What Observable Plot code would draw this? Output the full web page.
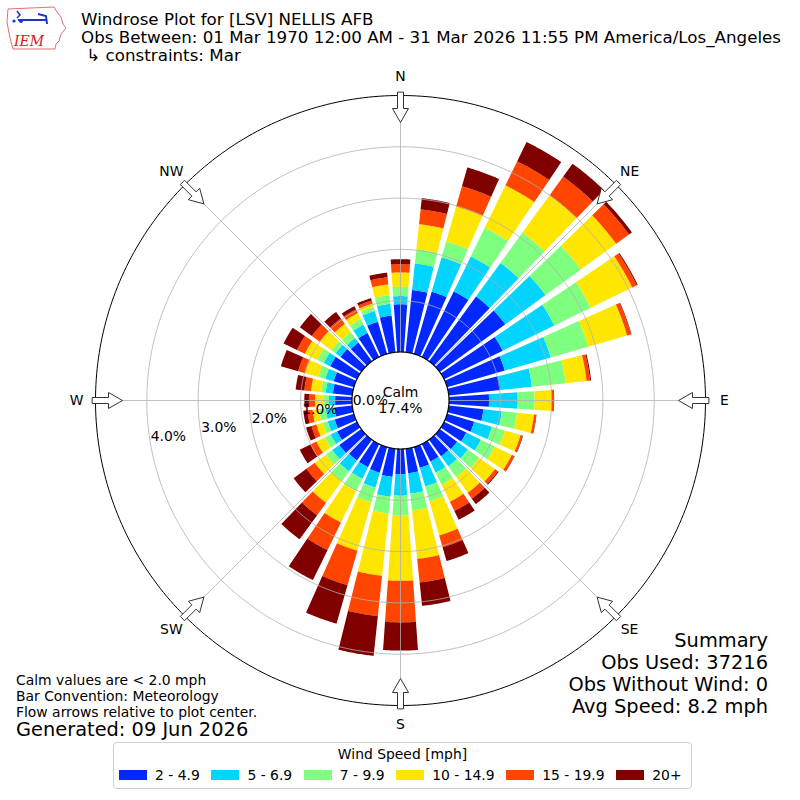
<!DOCTYPE html>
<html>
<head>
<meta charset="utf-8">
<script src="https://cdn.jsdelivr.net/npm/d3@7"></script>
<script src="https://cdn.jsdelivr.net/npm/@observablehq/plot@0.6"></script>
<style>
  html, body { margin: 0; padding: 0; background: #fff; }
  body { font-family: "DejaVu Sans", sans-serif; color: #000; }
  #page { position: relative; width: 800px; height: 800px; overflow: hidden; background: #fff; }
  #chart { position: absolute; left: 0; top: 0; width: 800px; height: 800px; }
  #logo { position: absolute; left: 0; top: 0; }
  #title { position: absolute; left: 81px; top: 10px; font-size: 16.7px; line-height: 18px; white-space: pre; }
  #summary { position: absolute; right: 32px; top: 630px; font-size: 19.4px; line-height: 22px; text-align: right; white-space: pre; }
  #notes { position: absolute; left: 16px; top: 672px; font-size: 13.9px; line-height: 16px; white-space: pre; }
  #generated { position: absolute; left: 16px; top: 719px; font-size: 19.4px; line-height: 22px; white-space: pre; }
  #legend { position: absolute; left: 113px; top: 742px; width: 577px; height: 45px; border: 1px solid #d0d0d0; border-radius: 4px; background: #fff; }
  #legend .ltitle { position: absolute; left: 0; right: 0; top: 2px; text-align: center; font-size: 13.9px; line-height: 18px; white-space: nowrap; }
  #legend .row { position: absolute; left: 5px; top: 23px; display: flex; flex-wrap: nowrap; align-items: center; font-size: 13.9px; line-height: 18px; white-space: nowrap; }
  #legend .item { display: flex; flex: none; align-items: center; margin-right: 11.6px; white-space: nowrap; }
  #legend .sw { flex: none; width: 28px; height: 10px; margin-right: 8px; }
</style>
</head>
<body>
<div id="page">
  <div id="chart"></div>
  <svg id="logo" width="72" height="56" viewBox="0 0 72 56">
    <path d="M8,9 L54,7 L57,12 L61,17 L63,24 L66,28 L61,34 L59,41 L56,44 L55,49 L13,49 L11,42 L9,33 L7,22 Z" fill="none" stroke="#e07070" stroke-width="1"/>
    <path d="M17,11 L20,15 L17,18" fill="none" stroke="#2233cc" stroke-width="1.5"/>
    <line x1="18" y1="20" x2="47" y2="20" stroke="#2233cc" stroke-width="2"/>
    <path d="M38,14 L46,16 L47,24" fill="none" stroke="#2233cc" stroke-width="2"/>
    <circle cx="14" cy="21" r="1.6" fill="#2233cc"/>
    <circle cx="21" cy="21" r="2" fill="#2233cc"/>
    <text x="14" y="46" font-family="DejaVu Serif" font-style="italic" font-size="14" fill="#cc2222">IEM</text>
  </svg>
  <div id="title"></div>
  <div id="summary"></div>
  <div id="notes"></div>
  <div id="generated"></div>
  <div id="legend"><div class="ltitle"></div><div class="row"></div></div>
</div>
<script>
// ---------------- data ----------------
const directions = d3.range(0, 360, 10); // bar centre, degrees from north
const speedBins = ["2 - 4.9", "5 - 6.9", "7 - 9.9", "10 - 14.9", "15 - 19.9", "20+"];
const binColors = ["#0028ff", "#00d4ff", "#7fff7f", "#ffe600", "#ff4500", "#800000"];

// percent of observations per direction, one array per speed bin
const speed2to5 = [0.93,1.22,1.26,1.42,1.56,1.58,1.27,1.17,1.01,0.78,0.68,0.55,0.48,0.42,0.40,0.38,0.42,0.48,
                   0.49,0.55,0.52,0.50,0.50,0.53,0.43,0.39,0.35,0.33,0.38,0.41,0.58,0.50,0.45,0.52,0.65,0.72];
const speed5to7 = [0.16,0.52,0.70,0.76,0.81,0.97,1.12,0.93,0.62,0.56,0.36,0.36,0.32,0.26,0.24,0.24,0.38,0.40,
                   0.42,0.39,0.30,0.25,0.26,0.17,0.14,0.14,0.17,0.12,0.14,0.17,0.14,0.12,0.11,0.18,0.22,0.23];
const speed7to10 = [0.18,0.28,0.32,0.62,0.73,0.85,0.79,0.76,0.66,0.33,0.30,0.26,0.30,0.27,0.26,0.26,0.30,0.33,
                    0.39,0.33,0.30,0.27,0.24,0.15,0.13,0.10,0.13,0.10,0.09,0.14,0.14,0.10,0.14,0.12,0.08,0.17];
const speed10to15 = [0.28,0.49,0.71,0.92,0.90,0.85,0.90,0.79,0.41,0.33,0.33,0.32,0.37,0.38,0.38,0.37,0.69,0.95,
                     1.27,1.22,0.98,0.68,0.52,0.27,0.18,0.13,0.13,0.17,0.20,0.27,0.27,0.28,0.20,0.13,0.07,0.21];
const speed15to20 = [0.16,0.29,0.41,0.52,0.45,0.31,0.10,0.08,0.07,0.04,0.04,0.04,0.05,0.07,0.14,0.20,0.24,0.46,
                     0.81,0.79,0.70,0.60,0.30,0.20,0.13,0.10,0.10,0.12,0.13,0.14,0.17,0.19,0.13,0.08,0.06,0.14];
const speed20plus = [0.10,0.22,0.38,0.42,0.31,0.07,0.02,0.01,0.02,0.01,0.01,0.01,0.01,0.02,0.13,0.19,0.28,0.46,
                     0.55,0.78,0.78,0.65,0.58,0.31,0.23,0.11,0.08,0.09,0.17,0.35,0.29,0.29,0.16,0.07,0.05,0.09];

const calmPercent = 17.4;
const ringTicks = [0, 1, 2, 3, 4];
const ringLabels = ["0.0%", "1.0%", "2.0%", "3.0%", "4.0%"];
const outerPercent = 5;
const compassNames = ["N", "NE", "E", "SE", "S", "SW", "W", "NW"];
const compassAngles = [0, 45, 90, 135, 180, 225, 270, 315];

const titleLines = [
  "Windrose Plot for [LSV] NELLIS AFB",
  "Obs Between: 01 Mar 1970 12:00 AM - 31 Mar 2026 11:55 PM America/Los_Angeles",
  " \u21B3 constraints: Mar"
];
const summaryLines = ["Summary", "Obs Used: 37216", "Obs Without Wind: 0", "Avg Speed: 8.2 mph"];
const noteLines = ["Calm values are < 2.0 mph", "Bar Convention: Meteorology", "Flow arrows relative to plot center."];
const generatedLine = "Generated: 09 Jun 2026";
const legendTitle = "Wind Speed [mph]";

// ---------------- geometry helpers ----------------
const PX = 51.3;              // pixels per percent
const CALM = 48.5 / PX;       // radius of calm circle (data units)
const HALF = 4;               // half bar width, degrees
const LABEL_R = 324 / PX;
const rad = d => d * Math.PI / 180;
const pol = (r, a) => [r * Math.sin(rad(a)), r * Math.cos(rad(a))];

function arc(r, a0, a1, n) {
  const pts = [];
  for (let i = 0; i <= n; i++) pts.push(pol(r, a0 + (a1 - a0) * i / n));
  return pts;
}
function sector(r0, r1, a0, a1) {
  const outer = arc(r1, a0, a1, 24);
  const inner = arc(r0, a1, a0, 24);
  const ring = outer.concat(inner);
  ring.push(ring[0]);
  return {type: "Polygon", coordinates: [ring]};
}
function circleLine(r) { return {type: "LineString", coordinates: arc(r, 0, 360, 360)}; }
function disc(r) { return {type: "Polygon", coordinates: [arc(r, 0, 360, 360)]}; }
function spoke(r0, r1, a) { return {type: "LineString", coordinates: [pol(r0, a), pol(r1, a)]}; }
function arrow(a) {
  const ux = Math.sin(rad(a)), uy = Math.cos(rad(a));
  const px = Math.cos(rad(a)), py = -Math.sin(rad(a));
  const pt = (r, v) => [(ux * r + px * v) / PX, (uy * r + py * v) / PX];
  const tail = 308, neck = 292, tip = 278, sw = 3, hw = 8;
  return {type: "Polygon", coordinates: [[pt(tail, -sw), pt(neck, -sw), pt(neck, -hw), pt(tip, 0),
    pt(neck, hw), pt(neck, sw), pt(tail, sw), pt(tail, -sw)]]};
}

const series = [speed2to5, speed5to7, speed7to10, speed10to15, speed15to20, speed20plus];
const barRows = [];
directions.forEach((d, i) => {
  let cum = 0;
  series.forEach((s, j) => {
    const v = s[i];
    barRows.push({dir: d, bin: speedBins[j], value: v, geom: sector(CALM + cum, CALM + cum + v, d - HALF, d + HALF)});
    cum += v;
  });
});

const R = 400 / PX;
const frame = {type: "Polygon", coordinates: [[[-R, -R], [R, -R], [R, R], [-R, R], [-R, -R]]]};

const chart = Plot.plot({
  width: 800,
  height: 800,
  margin: 0,
  projection: {type: "reflect-y", domain: frame},
  color: {domain: speedBins, range: binColors},
  style: {fontFamily: "DejaVu Sans", background: "transparent", overflow: "visible"},
  marks: [
    Plot.geo(barRows, {geometry: "geom", fill: "bin", stroke: "none"}),
    Plot.geo(ringTicks.filter(t => t > 0).map(t => circleLine(CALM + t)), {stroke: "#b0b0b0", strokeWidth: 0.8, fill: "none"}),
    Plot.geo(compassAngles.map(a => spoke(CALM, CALM + outerPercent, a)), {stroke: "#b0b0b0", strokeWidth: 0.8}),
    Plot.geo([circleLine(CALM + outerPercent)], {stroke: "#000", strokeWidth: 1, fill: "none"}),
    Plot.geo([disc(CALM)], {fill: "#fff", stroke: "#000", strokeWidth: 1.2}),
    Plot.geo(compassAngles.map(arrow), {fill: "#fff", stroke: "#333", strokeWidth: 1}),
    Plot.text(compassNames, {
      x: (d, i) => pol(LABEL_R, compassAngles[i])[0],
      y: (d, i) => pol(LABEL_R, compassAngles[i])[1],
      text: d => d, fontSize: 13.9, fill: "#000"
    }),
    Plot.text(ringLabels, {
      x: (d, i) => pol(CALM + ringTicks[i], 260)[0],
      y: (d, i) => pol(CALM + ringTicks[i], 260)[1],
      text: d => d, fontSize: 13.9, textAnchor: "start", lineAnchor: "bottom", dy: -4, fill: "#000"
    }),
    Plot.text([`Calm\n${calmPercent}%`], {x: 0, y: 0, text: d => d, fontSize: 13.9, lineHeight: 1.15, dy: -1, fill: "#000"})
  ]
});
document.getElementById("chart").appendChild(chart);

// ---------------- text blocks ----------------
document.getElementById("title").textContent = titleLines.join("\n");
document.getElementById("summary").textContent = summaryLines.join("\n");
document.getElementById("notes").textContent = noteLines.join("\n");
document.getElementById("generated").textContent = generatedLine;
document.querySelector("#legend .ltitle").textContent = legendTitle;
const row = document.querySelector("#legend .row");
speedBins.forEach((b, i) => {
  const item = document.createElement("div");
  item.className = "item";
  const sw = document.createElement("div");
  sw.className = "sw";
  sw.style.background = binColors[i];
  const t = document.createElement("span");
  t.textContent = b;
  item.appendChild(sw);
  item.appendChild(t);
  row.appendChild(item);
});
</script>
</body>
</html>
